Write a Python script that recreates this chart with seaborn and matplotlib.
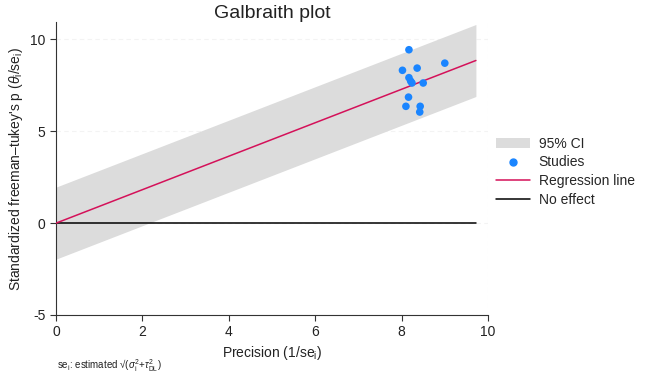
import numpy as np
import matplotlib
matplotlib.use("Agg")
import matplotlib.pyplot as plt
import seaborn as sns
from matplotlib.patches import Patch
from matplotlib.lines import Line2D

# Study values: precision (1/se_i) and standardized effect (theta_i/se_i)
precision = [8.17, 9.00, 8.02, 8.36, 8.17, 8.21, 8.24, 8.50, 8.16, 8.10, 8.43, 8.42]
std_effect = [9.44, 8.71, 8.32, 8.44, 7.92, 7.73, 7.63, 7.63, 6.86, 6.36, 6.36, 6.05]

# Regression through the origin and its 95% band
slope = 0.911
ci_half = 1.96
line_x = [0, 9.72]

sns.set_style("ticks")
plt.rcParams['font.family'] = ['Liberation Sans', 'DejaVu Sans']
plt.rcParams['mathtext.fontset'] = 'custom'
plt.rcParams['mathtext.rm'] = 'Liberation Sans'
plt.rcParams['mathtext.it'] = 'Liberation Sans:italic'
plt.rcParams['axes.unicode_minus'] = False

blue = '#1a85ff'
red = '#d41159'
band = '#dcdcdc'

fig = plt.figure(figsize=(6.45, 3.79), dpi=100)
ax = fig.add_axes([56 / 645, 1 - 315 / 379, (488 - 56) / 645, (315 - 22) / 379])

lx = np.array(line_x)
ax.fill_between(lx, slope * lx - ci_half, slope * lx + ci_half, color=band, lw=0, zorder=1)
sns.lineplot(x=lx, y=slope * lx, color=red, lw=1.1, ax=ax, zorder=3)
sns.lineplot(x=lx, y=[0, 0], color='black', lw=1.1, ax=ax, zorder=2)
sns.scatterplot(x=precision, y=std_effect, color=blue, s=30, edgecolor='none', ax=ax, zorder=4)

ax.set_xlim(0, 10)
ax.set_ylim(-5, 10.95)
ax.set_xticks([0, 2, 4, 6, 8, 10])
ax.set_yticks([-5, 0, 5, 10])
ax.yaxis.grid(True, color='#f3f3f3', ls=(0, (4, 3)), lw=0.8, zorder=0)
ax.axvline(10, color='#f3f3f3', ls=(0, (4, 3)), lw=0.8, zorder=0)
ax.set_axisbelow(True)
sns.despine(ax=ax)
ax.spines['left'].set_color('#333333')
ax.spines['bottom'].set_color('#333333')
ax.tick_params(labelsize=10, length=4, color='#333333', labelcolor='#222222')

ax.set_title('Galbraith plot', fontsize=14, color='#222222', pad=3)
ax.set_xlabel(r'Precision (1/se$_\mathrm{i}$)', fontsize=10, color='#222222', labelpad=3)
ax.set_ylabel(r"Standardized freeman–tukey's p ($\theta_\mathrm{i}$/se$_\mathrm{i}$)",
              fontsize=10, color='#222222', labelpad=4)

fig.text(57 / 645, 1 - 366 / 379,
         r'se$_\mathrm{i}$: estimated √($\sigma_\mathrm{i}^{2}$+$\tau^{2}_\mathrm{DL}$)',
         fontsize=7, color='#222222', va='center')

handles = [
    Patch(facecolor=band, edgecolor='none', label='95% CI'),
    Line2D([], [], marker='o', color=blue, ls='none', markersize=5, label='Studies'),
    Line2D([], [], color=red, lw=1.1, label='Regression line'),
    Line2D([], [], color='black', lw=1.1, label='No effect'),
]
fig.legend(handles=handles, loc='upper left', bbox_to_anchor=(490 / 645, 1 - 131 / 379),
           frameon=False, fontsize=10, labelspacing=0.35, handlelength=2.5,
           handletextpad=0.6, borderaxespad=0)

fig.savefig('out.png', dpi=100)
